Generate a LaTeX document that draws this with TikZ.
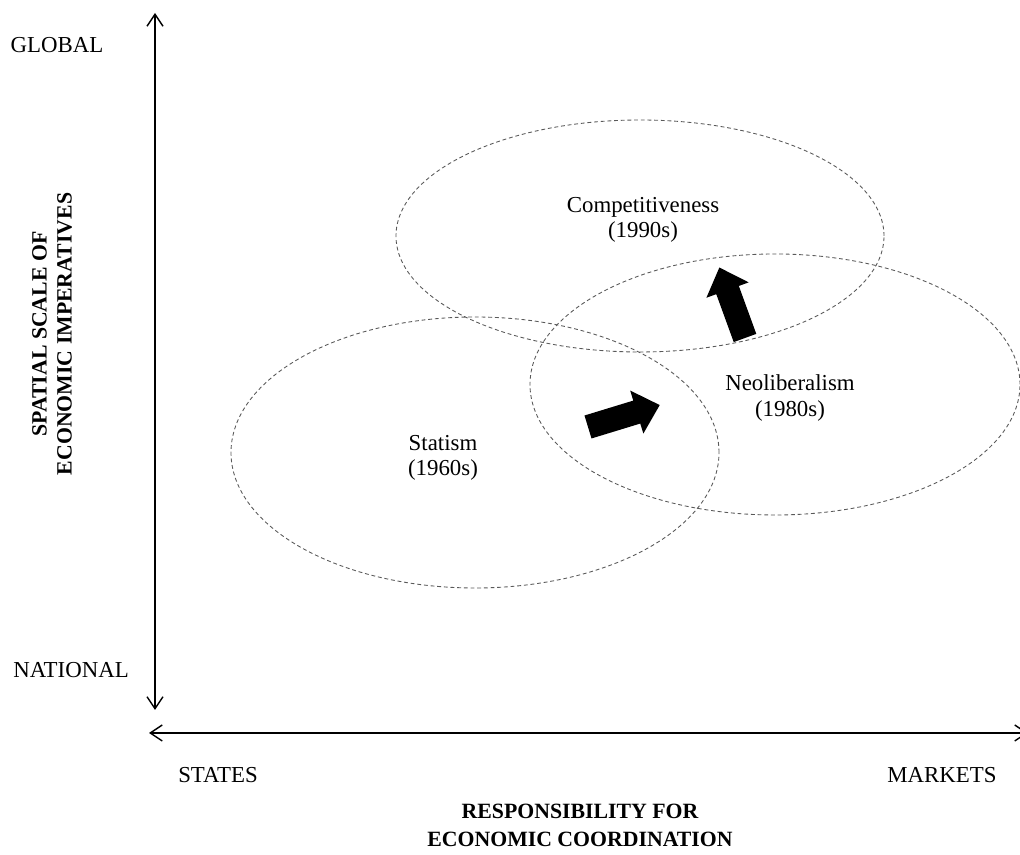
\documentclass[tikz,border=0pt]{standalone}
\usepackage{fontspec}
\setmainfont{Liberation Serif}
\usetikzlibrary{arrows.meta,shapes.geometric}
\tikzset{
    chart/.cd,
    axis/.style={line width=0.8pt,{Straight Barb[length=2.4mm,width=3.2mm]}-{Straight Barb[length=2.4mm,width=3.2mm]}},
    era/.style={draw=black!65,line width=0.5pt,dash pattern=on 2.2pt off 1.6pt,ellipse,inner sep=0pt},
    label/.style={font=\fontsize{13}{14.5}\selectfont,align=center},
    title/.style={align=center,font=\fontsize{12.4}{16}\selectfont\bfseries},
    shift arrow/.style={fill=black},
}

\begin{document}
\begin{tikzpicture}
      \useasboundingbox (0,0) rectangle (20.4,17.1);

      % axes
      \coordinate (ybot) at (3.1,2.9);
      \coordinate (ytop) at (3.1,16.84);
      \coordinate (xleft) at (2.98,2.44);
      \coordinate (xright) at (20.56,2.44);
      \draw[chart/axis] (ybot) -- (ytop);
      \draw[chart/axis] (xleft) -- (xright);

      \node[chart/label] (global) at (1.14,16.2) {GLOBAL};
      \node[chart/label] (national) at (1.42,3.7) {NATIONAL};
      \node[chart/label] (states) at (4.36,1.6) {STATES};
      \node[chart/label] (markets) at (18.84,1.6) {MARKETS};
      \node[chart/title] (xtitle) at (11.6,0.6) {RESPONSIBILITY FOR\\ECONOMIC COORDINATION};
      \node[chart/title,rotate=90,font=\fontsize{12.4}{14.2}\selectfont\bfseries] (ytitle) at (1.04,10.42) {SPATIAL SCALE OF\\ECONOMIC IMPERATIVES};

      % eras
      \node[chart/era,minimum width=9.76cm,minimum height=4.64cm] (comp) at (12.8,12.38) {};
      \node[chart/era,minimum width=9.8cm,minimum height=5.22cm] (neo) at (15.5,9.41) {};
      \node[chart/era,minimum width=9.76cm,minimum height=5.42cm] (stat) at (9.5,8.05) {};

      \node[chart/label] (comp label) at (12.86,12.7) {Competitiveness\\(1990s)};
      \node[chart/label] (neo label) at (15.8,9.14) {Neoliberalism\\(1980s)};
      \node[chart/label] (stat label) at (8.86,7.94) {Statism\\(1960s)};

      % shifts
      \foreach \x/\y/\a in {11.76/8.56/17,14.9/10.34/110} {
        \fill[chart/shift arrow,shift={(\x,\y)},rotate=\a]
          (0,-0.24) -- (1.02,-0.24) -- (1.02,-0.45) -- (1.5,0)
          -- (1.02,0.45) -- (1.02,0.24) -- (0,0.24) -- cycle;
      }
\end{tikzpicture}
\end{document}
